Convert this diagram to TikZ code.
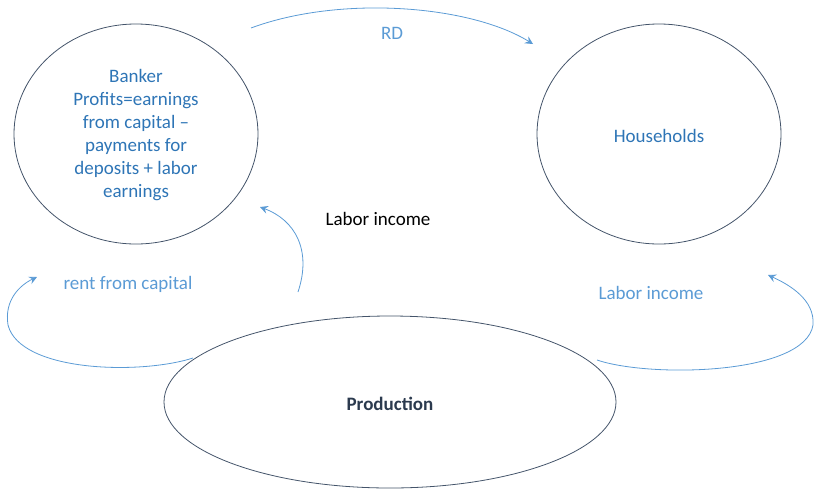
\documentclass[tikz,border=0pt]{standalone}
\usepackage{fontspec}
\setmainfont{Carlito}
\usetikzlibrary{shapes.geometric,arrows.meta}
\definecolor{edgeblue}{HTML}{5B9BD5}
\definecolor{textblue}{HTML}{2E75B6}
\definecolor{ringgray}{HTML}{44546A}
\definecolor{darkslate}{HTML}{2B3A4E}
\tikzset{
  ring/.style={draw=ringgray, line width=0.8pt, ellipse, inner sep=0pt},
  flow/.style={draw=edgeblue, line width=0.8pt, -{Stealth[length=8pt,width=8pt,inset=3pt]}},
  lbl/.style={font=\fontsize{19}{19}\selectfont, text=edgeblue},
}
\begin{document}
\begin{tikzpicture}[x=1pt,y=-1pt]
\useasboundingbox (0,0) rectangle (814,488);
\node[ring, minimum width=244pt, minimum height=220pt] (banker) at (136,134) {};
\node[ring, minimum width=244pt, minimum height=220pt] (house) at (659,134) {};
\node[ring, minimum width=452pt, minimum height=172pt] (prod) at (390,402) {};
\node[align=center, text=textblue, font=\fontsize{19}{23}\selectfont] (btxt) at (136,135)
  {Banker\\Profits=earnings\\from capital –\\payments for\\deposits + labor\\earnings};
\node[text=textblue, font=\fontsize{19}{19}\selectfont] (htxt) at (659,136) {Households};
\node[text=darkslate, font=\fontsize{19}{19}\selectfont\bfseries] (ptxt) at (390,404) {Production};
\node[font=\fontsize{19}{19}\selectfont] (labmid) at (378,219) {Labor income};
\node[lbl] (rd) at (392,33) {RD};
\node[lbl] (rent) at (128,284) {rent from capital};
\node[lbl] (labr) at (651,293) {Labor income};
\coordinate (rdS) at (251,28);
\coordinate (rdE) at (533,44);
\coordinate (midS) at (298,292);
\coordinate (midE) at (260,207);
\coordinate (rentS) at (193,358);
\coordinate (rentE) at (37,277);
\coordinate (labS) at (597,360);
\coordinate (labE) at (768,275);
\draw[flow] (rdS) .. controls (340,-5) and (470,5) .. (rdE);
\draw[flow] (midS) .. controls (312,250) and (295,220) .. (midE);
\draw[flow] (rentS) .. controls (140,375) and (20,372) .. (8,325) .. controls (4,300) and (20,285) .. (rentE);
\draw[flow] (labS) .. controls (650,378) and (805,375) .. (813,325) .. controls (815,300) and (790,285) .. (labE);
\end{tikzpicture}
\end{document}
